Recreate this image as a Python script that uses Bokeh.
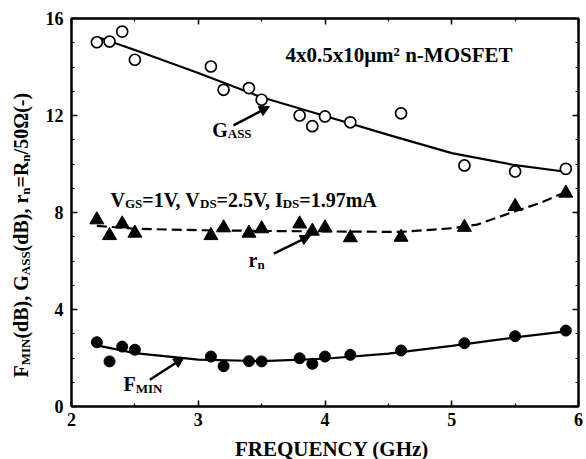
import math
from bokeh.plotting import figure
from bokeh.models import LinearAxis, SingleIntervalTicker, Label, Arrow, NormalHead, Range1d, BoxAnnotation
from bokeh.embed import file_html
from bokeh.resources import INLINE

# ---------------- data ----------------
freq = [2.2, 2.3, 2.4, 2.5, 3.1, 3.2, 3.4, 3.5, 3.8, 3.9, 4.0, 4.2, 4.6, 5.1, 5.5, 5.9]
gass = [15.02, 15.05, 15.46, 14.30, 14.02, 13.06, 13.13, 12.65, 12.00, 11.56, 11.96, 11.72, 12.09, 9.94, 9.69, 9.80]
rn = [7.70, 7.05, 7.53, 7.15, 7.05, 7.37, 7.15, 7.33, 7.53, 7.23, 7.37, 6.96, 6.98, 7.39, 8.25, 8.80]
fmin = [2.65, 1.86, 2.47, 2.34, 2.06, 1.66, 1.87, 1.86, 1.99, 1.76, 2.06, 2.13, 2.31, 2.61, 2.90, 3.13]

gass_fit_f = [2.2, 2.5, 3.0, 3.5, 4.0, 4.5, 5.0, 5.5, 5.9]
gass_fit = [15.25, 14.70, 13.75, 12.75, 11.98, 11.20, 10.45, 9.95, 9.68]

rn_fit_f = [2.2, 2.5, 3.0, 3.5, 4.0, 4.6, 5.0, 5.2, 5.5, 5.7, 5.9]
rn_fit = [7.45, 7.33, 7.27, 7.24, 7.22, 7.20, 7.35, 7.50, 8.05, 8.40, 8.85]

fmin_fit_f = [2.2, 2.5, 3.0, 3.5, 4.0, 4.5, 5.0, 5.5, 5.9]
fmin_fit = [2.52, 2.20, 1.93, 1.87, 1.97, 2.18, 2.50, 2.85, 3.10]

X_MIN, X_MAX = 2, 6
Y_MIN, Y_MAX = 0, 16

FONT = "Liberation Serif"

# layout: plot box 71..578 px horizontally, 18..406 px vertically on a 586x459 canvas
W_PX, H_PX = 586, 459
BOX_L, BOX_R, BOX_T, BOX_B = 71, 578, 18, 406
sx = (BOX_R - BOX_L) / (X_MAX - X_MIN)
sy = (BOX_B - BOX_T) / (Y_MAX - Y_MIN)
x_range = Range1d(X_MIN - BOX_L / sx, X_MAX + (W_PX - BOX_R) / sx)
y_range = Range1d(Y_MIN - (H_PX - BOX_B) / sy, Y_MAX + BOX_T / sy)

p = figure(width=W_PX, height=H_PX, x_range=x_range, y_range=y_range,
           output_backend="svg", toolbar_location=None,
           min_border_left=0, min_border_right=0, min_border_top=0, min_border_bottom=0)
p.grid.visible = False
p.outline_line_color = None
p.background_fill_color = "white"
p.border_fill_color = "white"


def style_axis(ax, show_labels=True):
    ax.axis_line_width = 2
    ax.axis_line_color = "black"
    ax.major_tick_in = 6
    ax.major_tick_out = 0
    ax.minor_tick_in = 3
    ax.minor_tick_out = 0
    ax.major_tick_line_width = 1.5
    ax.minor_tick_line_width = 1.2
    ax.major_tick_line_color = "black"
    ax.minor_tick_line_color = "black"
    if show_labels:
        ax.major_label_text_font = FONT
        ax.major_label_text_font_style = "bold"
        ax.major_label_text_font_size = "18px"
        ax.major_label_text_color = "black"
    else:
        ax.major_label_overrides = {v: "" for v in range(-5, 25)}
        ax.major_label_text_font_size = "0px"
        ax.major_label_standoff = 0


xt = dict(interval=1, num_minor_ticks=2)
yt = dict(interval=4, num_minor_ticks=4)

xb = p.xaxis[0]
xb.ticker = SingleIntervalTicker(**xt)
xb.fixed_location = Y_MIN
xb.bounds = (X_MIN, X_MAX)
style_axis(xb)
xb.major_label_standoff = 6

yl = p.yaxis[0]
yl.ticker = SingleIntervalTicker(**yt)
yl.fixed_location = X_MIN
yl.bounds = (Y_MIN, Y_MAX)
style_axis(yl)
yl.major_label_standoff = 8

ra = LinearAxis(ticker=SingleIntervalTicker(**yt), fixed_location=X_MAX, bounds=(Y_MIN, Y_MAX))
style_axis(ra, False)
p.add_layout(ra, "right")
ta = LinearAxis(ticker=SingleIntervalTicker(**xt), fixed_location=Y_MAX, bounds=(X_MIN, X_MAX))
style_axis(ta, False)
p.add_layout(ta, "above")

# frame border of the plotting box
p.add_layout(BoxAnnotation(left=X_MIN, right=X_MAX, bottom=Y_MIN, top=Y_MAX,
                           fill_alpha=0, line_color="black", line_width=2, line_alpha=1))

# ---------------- fitted curves ----------------
p.line(gass_fit_f, gass_fit, line_color="black", line_width=2.2)
p.line(rn_fit_f, rn_fit, line_color="black", line_width=2.2, line_dash="10 5")
p.line(fmin_fit_f, fmin_fit, line_color="black", line_width=2.2)

# ---------------- measured points ----------------
p.scatter(freq, gass, marker="circle", size=11, fill_color="white", line_color="black", line_width=1.7)
p.scatter(freq, rn, marker="triangle", size=14, fill_color="black", line_color="black")
p.scatter(freq, fmin, marker="circle", size=11, fill_color="black", line_color="black")

# ---------------- text with subscripts ----------------
CW = {' ': 250, '(': 333, ')': 333, ',': 250, '-': 333, '.': 250, '/': 278, '=': 570,
      'A': 722, 'B': 667, 'D': 722, 'E': 667, 'F': 611, 'G': 778, 'I': 389, 'M': 944,
      'N': 722, 'O': 778, 'R': 722, 'S': 556, 'T': 667, 'V': 722,
      'd': 556, 'm': 833, 'n': 556, 'r': 444, 'x': 500, '\u03a9': 770}
KERN = {('V', ','): -130}
BASE_FIX = 9  # px: lift text so that its baseline sits on the anchor


def text_w(s, fs):
    w = sum(CW.get(c, 500) for c in s)
    w += sum(KERN.get((a, b), 0) for a, b in zip(s, s[1:]))
    return w / 1000.0 * fs


def label(x, y, txt, fs=20, dx=0.0, dy=0.0, align="left", angle=0.0):
    if angle == 0:
        dy = dy + BASE_FIX
    else:
        dx = dx - BASE_FIX
    p.add_layout(Label(x=x, y=y, x_offset=dx, y_offset=dy, text=txt, angle=angle,
                       text_font=FONT, text_font_style="bold", text_font_size=f"{fs}px",
                       text_align=align, text_baseline="alphabetic", text_color="black"))


def rich(x, y, pieces, size=20, sub_size=13, sub_drop=5, angle=0.0, dx=0.0, dy=0.0):
    off = 0.0
    for txt, sub in pieces:
        fs = sub_size if sub else size
        if angle == 0:
            xo, yo = dx + off, dy - (sub_drop if sub else 0)
        else:
            xo, yo = dx + (sub_drop if sub else 0), dy + off
        label(x, y, txt, fs=fs, dx=xo, dy=yo, angle=angle)
        off += text_w(txt, fs)


# device label
label(3.688, 14.13, "4x0.5x10\u03bcm\u00b2 n-MOSFET", fs=21)

# bias label
rich(2.308, 8.16, [("V", 0), ("GS", 1), ("=1V, V", 0), ("DS", 1), ("=2.5V, I", 0), ("DS", 1), ("=1.97mA", 0)],
     sub_drop=4)

rich(3.11, 11.05, [("G", 0), ("ASS", 1)], sub_drop=4)
rich(3.397, 5.69, [("r", 0), ("n", 1)], sub_drop=5)
rich(2.41, 0.577, [("F", 0), ("MIN", 1)], sub_drop=5)

# x-axis title
label((X_MIN + X_MAX) / 2, Y_MIN, "FREQUENCY (GHz)", fs=21, dx=7, dy=-51, align="center")

# y-axis title (rotated)
rich(X_MIN, Y_MIN, [("F", 0), ("MIN", 1), ("(dB), ", 0), ("G", 0), ("ASS", 1), ("(dB), ", 0),
                    ("r", 0), ("n", 1), ("=R", 0), ("n", 1), ("/50\u03a9(-)", 0)],
     angle=math.pi / 2, dx=-42, dy=29, sub_drop=5)

# ---------------- arrows ----------------
for (xs, ys, xe, ye) in [(3.278, 11.59, 3.562, 12.37),
                         (3.596, 6.30, 3.886, 7.05),
                         (2.618, 1.10, 2.886, 2.01)]:
    p.add_layout(Arrow(end=NormalHead(size=10, fill_color="black", line_color="black"),
                       x_start=xs, y_start=ys, x_end=xe, y_end=ye,
                       line_width=2.5, line_color="black"))

open("out.html", "w").write(file_html(p, INLINE))
